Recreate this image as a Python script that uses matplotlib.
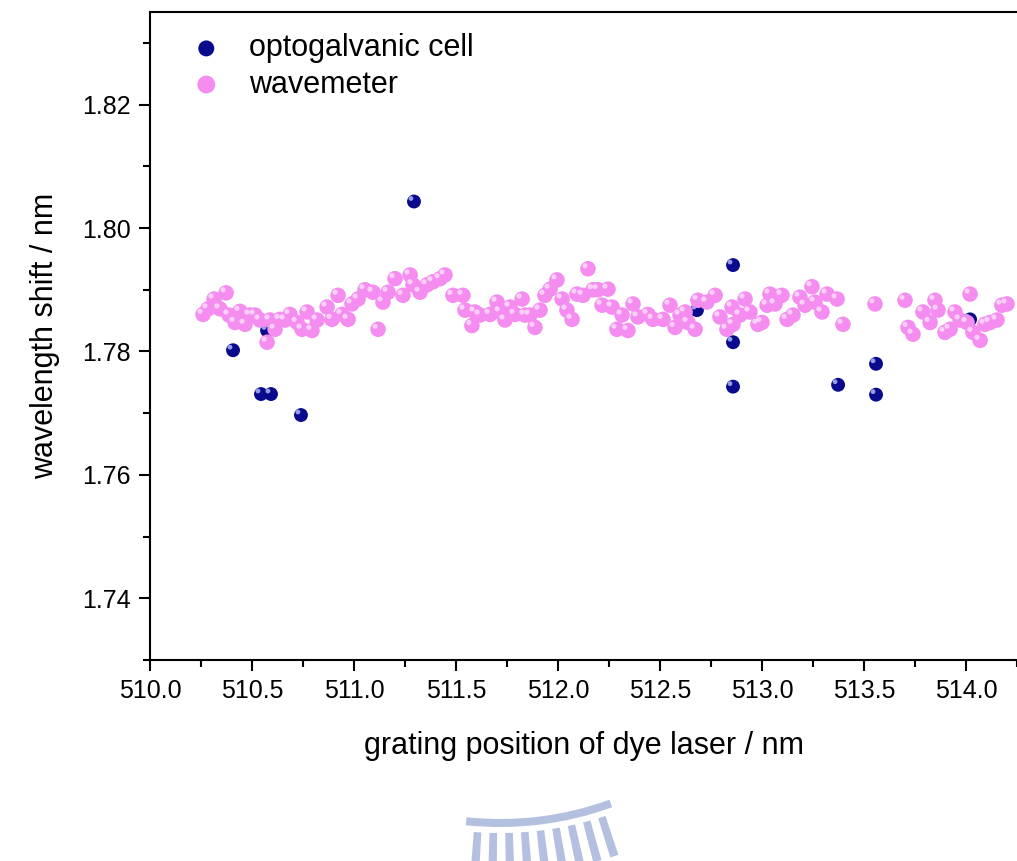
import matplotlib
matplotlib.use('Agg')
import matplotlib.pyplot as plt
from matplotlib.ticker import MultipleLocator, FormatStrFormatter
from matplotlib.transforms import offset_copy
from matplotlib.patches import Wedge

plt.rcParams['font.family'] = ['Liberation Sans', 'DejaVu Sans']

# optogalvanic cell
og_x = [510.407, 510.544, 510.593, 510.740, 511.294, 510.574, 512.681,
        512.858, 512.858, 512.858, 513.373, 513.559, 513.559, 514.020]
og_y = [1.7802, 1.7731, 1.7731, 1.7697, 1.8043, 1.7834, 1.7867,
        1.7940, 1.7815, 1.7743, 1.7746, 1.7780, 1.7730, 1.7852]

# wavemeter
wm_x = [510.260, 510.284, 510.314, 510.343, 510.373, 510.387, 510.417, 510.441,
        510.466, 510.490, 510.515, 510.539, 510.574, 510.588, 510.613, 510.637,
        510.662, 510.686, 510.721, 510.745, 510.770, 510.794, 510.819, 510.868,
        510.892, 510.922, 510.941, 510.971, 510.990, 511.020, 511.054, 511.093,
        511.118, 511.142, 511.167, 511.201, 511.240, 511.275, 511.289, 511.324,
        511.358, 511.387, 511.422, 511.446, 511.485, 511.534, 511.544, 511.578,
        511.593, 511.618, 511.667, 511.701, 511.716, 511.740, 511.765, 511.789,
        511.824, 511.838, 511.863, 511.887, 511.912, 511.936, 511.961, 511.995,
        512.020, 512.044, 512.069, 512.093, 512.123, 512.147, 512.172, 512.196,
        512.216, 512.245, 512.265, 512.314, 512.289, 512.343, 512.368, 512.392,
        512.441, 512.466, 512.515, 512.549, 512.574, 512.598, 512.623, 512.637,
        512.672, 512.686, 512.730, 512.770, 512.794, 512.828, 512.853, 512.858,
        512.892, 512.917, 512.941, 512.980, 513.000, 513.025, 513.039, 513.064,
        513.098, 513.123, 513.152, 513.186, 513.211, 513.245, 513.260, 513.294,
        513.319, 513.368, 513.397, 513.554, 513.701, 513.716, 513.740, 513.789,
        513.824, 513.848, 513.863, 513.897, 513.922, 513.946, 513.971, 514.020,
        514.005, 514.034, 514.069, 514.093, 514.118, 514.152, 514.176, 514.201]
wm_y = [1.7860, 1.7869, 1.7885, 1.7869, 1.7895, 1.7859, 1.7847, 1.7865,
        1.7844, 1.7859, 1.7859, 1.7851, 1.7815, 1.7851, 1.7836, 1.7852,
        1.7851, 1.7860, 1.7847, 1.7836, 1.7864, 1.7834, 1.7851, 1.7872,
        1.7852, 1.7891, 1.7860, 1.7852, 1.7877, 1.7885, 1.7900, 1.7896,
        1.7836, 1.7880, 1.7896, 1.7918, 1.7891, 1.7924, 1.7908, 1.7896,
        1.7908, 1.7913, 1.7918, 1.7924, 1.7891, 1.7891, 1.7867, 1.7842,
        1.7864, 1.7859, 1.7860, 1.7880, 1.7864, 1.7851, 1.7872, 1.7860,
        1.7885, 1.7859, 1.7859, 1.7839, 1.7867, 1.7891, 1.7901, 1.7916,
        1.7885, 1.7867, 1.7852, 1.7893, 1.7891, 1.7934, 1.7900, 1.7900,
        1.7875, 1.7901, 1.7872, 1.7859, 1.7836, 1.7834, 1.7877, 1.7856,
        1.7860, 1.7852, 1.7852, 1.7875, 1.7839, 1.7859, 1.7864, 1.7847,
        1.7836, 1.7883, 1.7880, 1.7891, 1.7856, 1.7836, 1.7872, 1.7844,
        1.7859, 1.7885, 1.7864, 1.7844, 1.7847, 1.7875, 1.7893, 1.7877,
        1.7891, 1.7852, 1.7859, 1.7888, 1.7875, 1.7905, 1.7880, 1.7864,
        1.7893, 1.7885, 1.7844, 1.7877, 1.7883, 1.7839, 1.7828, 1.7864,
        1.7847, 1.7883, 1.7867, 1.7831, 1.7836, 1.7864, 1.7851, 1.7893,
        1.7847, 1.7831, 1.7818, 1.7844, 1.7847, 1.7851, 1.7875, 1.7877]

navy = '#0a0a8c'
pink = '#f58cf0'

fig = plt.figure(figsize=(10.17, 8.61), dpi=100)

# faint watermark logo at the bottom (arc band + radial bars)
bg = fig.add_axes([0, 0, 1, 1], zorder=-1)
bg.set_xlim(0, 1017)
bg.set_ylim(0, 861)
bg.axis('off')
logo = '#b3c0e0'
bg.add_patch(Wedge((500, 362), 328, 264, 290, width=8, color=logo, lw=0))
for a in [265.5, 268.2, 270.9, 273.6, 276.3, 279.0, 281.7, 284.4, 287.1]:
    bg.add_patch(Wedge((500, 362), 375, a, a + 1.3, width=41, color=logo, lw=0))

ax = fig.add_axes([0.1475, 0.2334, 0.8525, 0.7526])

# shiny-ball look: main dot plus small offset highlight
hl = offset_copy(ax.transData, fig=fig, x=-2.2, y=2.2, units='points')
ax.scatter(og_x, og_y, s=100, color=navy, edgecolors='none', zorder=3,
           label='optogalvanic cell')
ax.scatter(og_x, og_y, s=12, color='#b8c4ff', edgecolors='none', alpha=0.8,
           transform=hl, zorder=3.1)
ax.scatter(wm_x, wm_y, s=125, color=pink, edgecolors='none', zorder=4,
           label='wavemeter')
ax.scatter(wm_x, wm_y, s=14, color='white', edgecolors='none', alpha=0.6,
           transform=hl, zorder=4.1)

ax.set_xlim(510.0, 514.25)
ax.set_ylim(1.73, 1.835)

ax.xaxis.set_major_locator(MultipleLocator(0.5))
ax.xaxis.set_minor_locator(MultipleLocator(0.25))
ax.yaxis.set_major_locator(MultipleLocator(0.02))
ax.yaxis.set_minor_locator(MultipleLocator(0.01))
ax.xaxis.set_major_formatter(FormatStrFormatter('%.1f'))
ax.yaxis.set_major_formatter(FormatStrFormatter('%.2f'))

ax.tick_params(which='major', direction='out', length=8, width=1.5,
               labelsize=18, pad=6)
ax.tick_params(which='minor', direction='out', length=5, width=1.5)
for sp in ax.spines.values():
    sp.set_linewidth(1.5)
ax.spines['right'].set_visible(False)

ax.set_xlabel('grating position of dye laser / nm', fontsize=22, labelpad=20)
ax.set_ylabel('wavelength shift / nm', fontsize=22, labelpad=16)

ax.legend(loc='upper left', frameon=False, fontsize=22, handletextpad=0.4,
          borderaxespad=0.3, labelspacing=0.2, markerscale=1.15,
          bbox_to_anchor=(0.005, 1.0))

fig.savefig('out.png', dpi=100)
